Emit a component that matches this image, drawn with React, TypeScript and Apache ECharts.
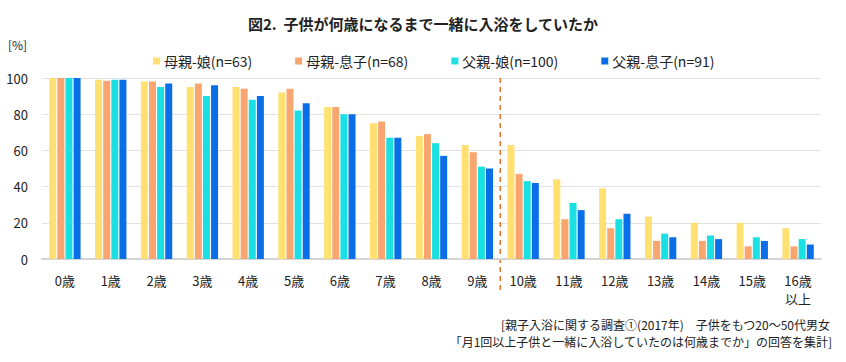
import React, { useEffect, useRef } from "react";
import * as echarts from "echarts";

const categories = ["0歳", "1歳", "2歳", "3歳", "4歳", "5歳", "6歳", "7歳", "8歳", "9歳", "10歳", "11歳", "12歳", "13歳", "14歳", "15歳", "16歳\n以上"];
const seriesNames = ["母親-娘(n=63)", "母親-息子(n=68)", "父親-娘(n=100)", "父親-息子(n=91)"];
const motherDaughter = [100, 99, 98, 95, 95, 92, 84, 75, 68, 63, 63, 44, 39, 23.5, 20, 20, 17];
const motherSon = [100, 98.5, 98, 97, 94, 94, 84, 76, 69, 59, 47, 22, 17, 10, 10, 7, 7];
const fatherDaughter = [100, 99, 95, 90, 88, 82, 80, 67, 64, 51, 43, 31, 22, 14, 13, 12, 11];
const fatherSon = [100, 99, 97, 96, 90, 86, 80, 67, 57, 50, 42, 27, 25, 12, 11, 10, 8];
const colors = ["#FFE070", "#F8A56F", "#1BE0E3", "#0A6FE6"];
const yTicks = { min: 0, max: 100, interval: 20 };

const FONT = "'Noto Sans CJK JP', 'Noto Sans', sans-serif";

export default function App() {
  const ref = useRef<HTMLDivElement>(null);
  useEffect(() => {
    document.body.style.margin = "0";
    const chart = echarts.init(ref.current!, null, { renderer: "svg" });
    const values = [motherDaughter, motherSon, fatherDaughter, fatherSon];
    const top = 78;
    chart.setOption({
      animation: false,
      textStyle: { fontFamily: FONT },
      title: {
        text: "図2.  子供が何歳になるまで一緒に入浴をしていたか",
        left: "center",
        top: 11,
        textStyle: { fontSize: 15, fontWeight: "bold", color: "#222", fontFamily: FONT },
      },
      legend: {
        left: 148,
        top: 49,
        icon: "rect",
        itemWidth: 7,
        itemHeight: 7,
        itemGap: 43,
        textStyle: { fontSize: 14, color: "#222", fontFamily: FONT, padding: [0, 0, 0, -1] },
        data: seriesNames,
      },
      grid: { left: 42, right: 25, top: top, bottom: 103, outerBoundsMode: "none", containLabel: false },
      xAxis: {
        type: "category",
        data: categories,
        axisLine: { lineStyle: { color: "#D4D4D4", width: 2 } },
        axisTick: { show: false },
        axisLabel: { fontSize: 13, color: "#222", margin: 12, lineHeight: 18, fontFamily: FONT },
      },
      yAxis: {
        type: "value",
        min: yTicks.min,
        max: yTicks.max,
        interval: yTicks.interval,
        axisLine: { show: false },
        axisTick: { show: false },
        axisLabel: { fontSize: 13, color: "#222", margin: 14, fontFamily: FONT },
        splitLine: { lineStyle: { color: "#E2E2E2", width: 1 } },
      },
      series: values.map((v, i) => ({
        name: seriesNames[i],
        type: "bar",
        data: v,
        barWidth: 7,
        barGap: "16%",
        itemStyle: { color: colors[i] },
      })),
    });
    const x9 = chart.convertToPixel({ xAxisIndex: 0 }, categories[9]) as number;
    const x10 = chart.convertToPixel({ xAxisIndex: 0 }, categories[10]) as number;
    const xd = (x9 + x10) / 2;
    chart.setOption({
      graphic: [
        {
          type: "line",
          shape: { x1: xd, y1: top, x2: xd, y2: 292 },
          style: { stroke: "#E8742A", lineWidth: 1.5, lineDash: [5, 4] },
        },
        {
          type: "text",
          left: 8,
          top: 38,
          style: { text: "[%]", fontSize: 12, fill: "#222", fontFamily: FONT },
        },
        {
          type: "text",
          right: 16,
          top: 318,
          style: { text: "[親子入浴に関する調査①(2017年)　子供をもつ20～50代男女", fontSize: 12, fill: "#222", fontFamily: FONT, textAlign: "right" },
        },
        {
          type: "text",
          right: 14,
          top: 335,
          style: { text: "「月1回以上子供と一緒に入浴していたのは何歳までか」の回答を集計]", fontSize: 12, fill: "#222", fontFamily: FONT, textAlign: "right" },
        },
      ],
    });
    return () => chart.dispose();
  }, []);
  return <div ref={ref} style={{ width: 846, height: 362 }} />;
}
